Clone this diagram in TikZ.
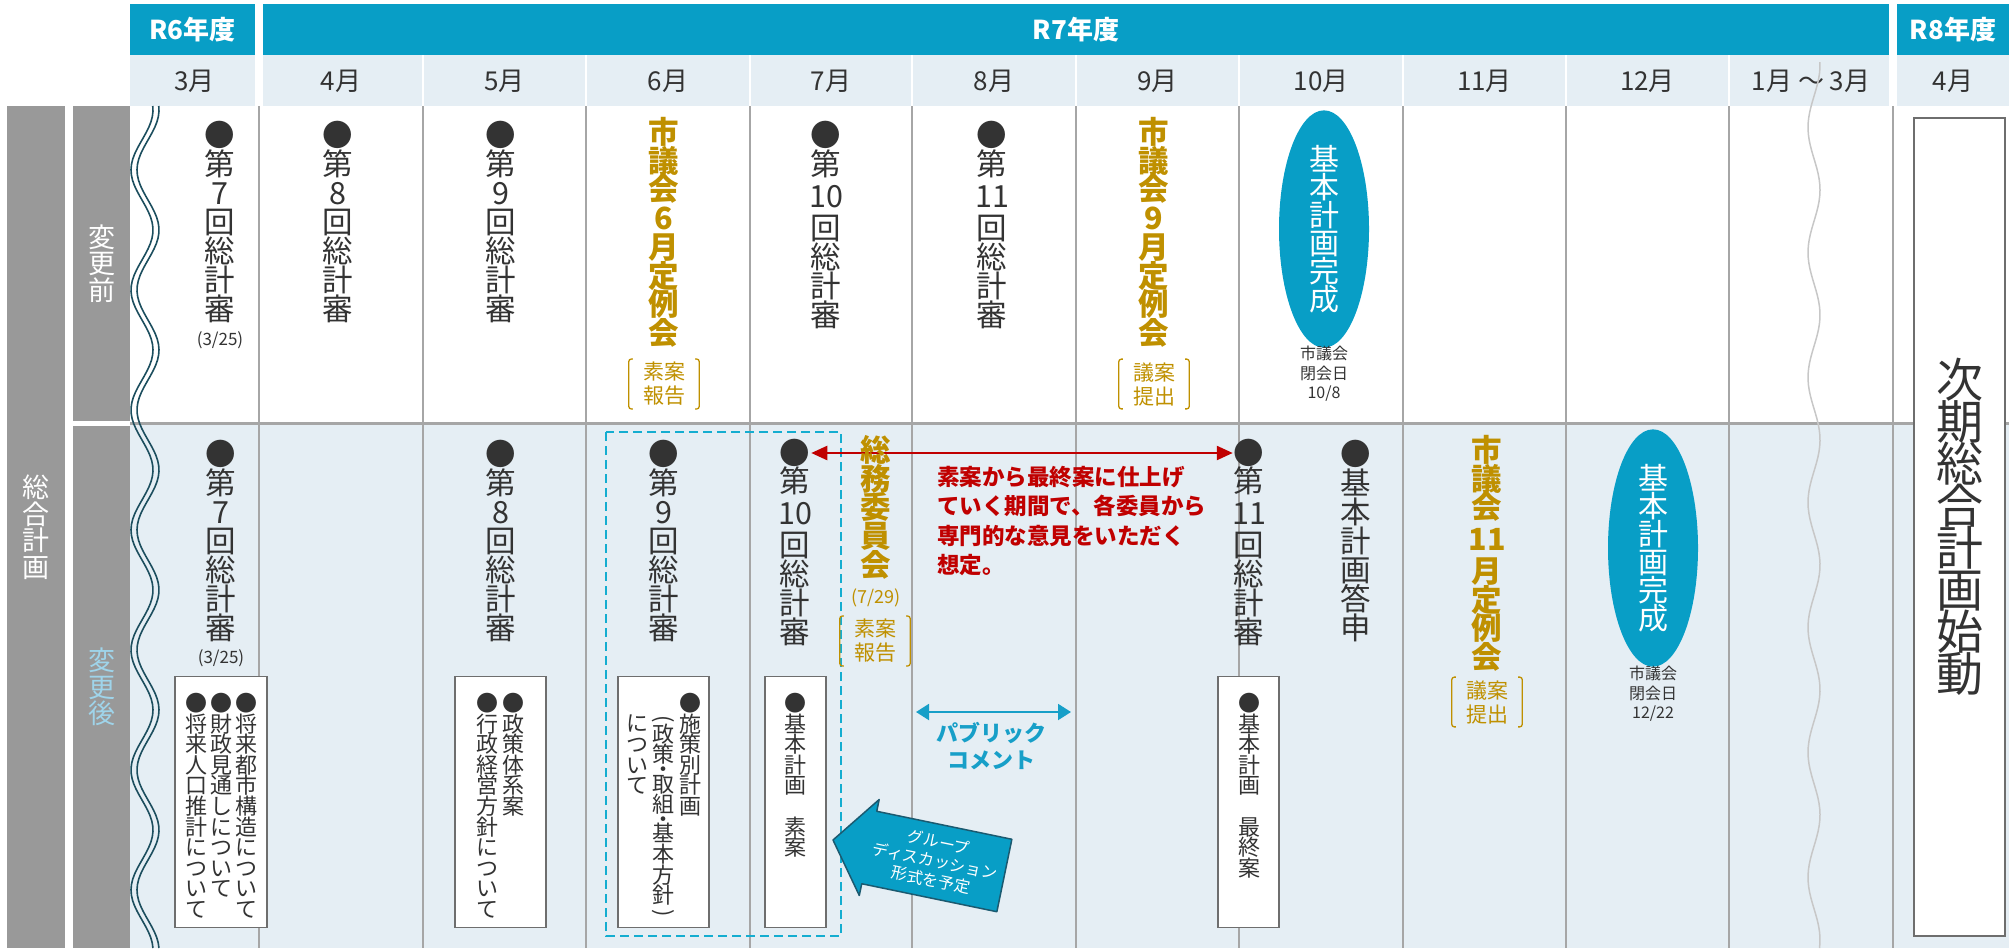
\documentclass[tikz,border=0pt]{standalone}
\usepackage{fontspec}
\setmainfont{Noto Sans CJK JP}
\usetikzlibrary{arrows.meta,shapes.geometric}

\definecolor{hdblue}{HTML}{089EC6}
\definecolor{rowbg}{HTML}{E5EEF4}
\definecolor{barg}{HTML}{999999}
\definecolor{gridg}{HTML}{A6A6A6}
\definecolor{ink}{HTML}{333333}
\definecolor{kgold}{HTML}{BF9000}
\definecolor{kred}{HTML}{C00000}
\definecolor{wavec}{HTML}{1C4E5E}
\definecolor{boxg}{HTML}{6E6E6E}
\definecolor{afterblue}{HTML}{9FD4EA}
\definecolor{pcblue}{HTML}{179FC8}
\definecolor{arrowedge}{HTML}{1B5A70}

\lineskiplimit=-100pt

% gold brackets round a note node
\newcommand\kakko[1]{%
  \draw[kgold,line width=1.3pt,rounded corners=2.5pt]
    ([xshift=4pt]#1.north west) -- (#1.north west) -- (#1.south west) -- ([xshift=4pt]#1.south west)
    ([xshift=-4pt]#1.north east) -- (#1.north east) -- (#1.south east) -- ([xshift=-4pt]#1.south east);}
% vertical parentheses
\newcommand\tateL{\rotatebox[origin=c]{-90}{(}}
\newcommand\tateR{\rotatebox[origin=c]{-90}{)}}

\begin{document}
\begin{tikzpicture}[x=1pt,y=-1pt,
  tate/.style={align=center,inner sep=0pt,text=ink,font=\fontsize{30.5}{29}\selectfont},
  gikai/.style={tate,text=kgold,font=\fontsize{30.5}{28.75}\selectfont\bfseries},
  maru/.style={inner sep=0pt,outer sep=1pt,text=ink,font=\fontsize{30.5}{29}\selectfont},
  memo/.style={draw=boxg,fill=white,line width=1.4pt,inner sep=0pt,anchor=north,minimum height=251pt},
  memotxt/.style={align=center,inner sep=0pt,text=ink,anchor=north,font=\fontsize{22}{20.6}\selectfont},
  kakkotxt/.style={align=center,inner xsep=14pt,inner ysep=3pt,text=kgold,font=\fontsize{21}{24}\selectfont},
  note/.style={align=center,inner sep=0pt,text=ink,font=\fontsize{16}{19.5}\selectfont},
  hd/.style={text=white,font=\fontsize{26}{26}\selectfont\bfseries},
  mon/.style={text=ink,font=\fontsize{26}{26}\selectfont},
  sidebar/.style={fill=barg,text=white,align=center,inner sep=0pt,font=\fontsize{27}{26.5}\selectfont},
  kansei/.style={ellipse,fill=hdblue,tate,text=white,minimum width=90pt,font=\fontsize{30}{28}\selectfont}]
\useasboundingbox (0,0) rectangle (2009,948);

% rows and grid
\fill[rowbg] (130,425) rectangle (2009,948);
\foreach \x in {259,423,586,750,912,1076,1239,1403,1566,1729,1893}{
  \draw[gridg,line width=2pt] (\x,106) -- (\x,948);
}
\draw[gridg,line width=2.5pt] (130,423.5) -- (2009,423.5);

% header
\foreach \a/\b in {130/255,263/1889,1897/2009}{
  \fill[hdblue] (\a,4) rectangle (\b,55);
  \fill[rowbg] (\a,55) rectangle (\b,106);
}
\foreach \x in {423,586,750,912,1076,1239,1403,1566,1729}{
  \draw[white,line width=2.5pt] (\x,55) -- (\x,106);
}
\node[hd] (r6) at (192.5,30) {R6年度};
\node[hd] (r7) at (1076,30) {R7年度};
\node[hd] (r8) at (1953,30) {R8年度};
\foreach \x/\m [count=\i] in {194.5/3月,341/4月,504.5/5月,668/6月,831/7月,994/8月,1157.5/9月,1321/10月,1484.5/11月,1647.5/12月,1811/1月 ～ 3月,1953/4月}{
  \node[mon] (mon\i) at (\x,81) {\m};
}

% side labels
\node[sidebar,minimum width=58pt,minimum height=842pt] (sogo) at (36,527) {総\\合\\計\\画};
\node[sidebar,minimum width=57pt,minimum height=315pt] (mae) at (101.5,263.5) {変\\更\\前};
\node[sidebar,minimum width=57pt,minimum height=522pt,text=afterblue] (ato) at (101.5,687) {変\\更\\後};

% wavy breaks
\draw[wavec,line width=1.6pt] plot[domain=106:948,samples=160,variable=\t] ({142+11*sin(3*\t+120)},\t);
\draw[wavec,line width=1.6pt] plot[domain=106:948,samples=160,variable=\t] ({148+11*sin(3*\t+120)},\t);
\draw[black!22,line width=1.5pt] plot[domain=62:948,samples=160,variable=\t] ({1814+6*sin(2.88*\t+263)},\t);

% before the change
\node[tate,anchor=north] (s3a) at (220,121) {●\\第\\7\\回\\総\\計\\審};
\node[text=ink,font=\fontsize{17}{17}\selectfont] (d3a) at (220,340) {(3/25)};
\node[tate,anchor=north] (s4a) at (338,121) {●\\第\\8\\回\\総\\計\\審};
\node[tate,anchor=north] (s5a) at (501,121) {●\\第\\9\\回\\総\\計\\審};
\node[gikai,anchor=north] (g6a) at (664,117) {市\\議\\会\\6\\月\\定\\例\\会};
\node[kakkotxt] (k6a) at (664,384) {素案\\報告};
\kakko{k6a}
\node[tate,anchor=north] (s7a) at (826,121) {●\\第\\[3pt]10\\[3pt]回\\総\\計\\審};
\node[tate,anchor=north] (s8a) at (992,121) {●\\第\\[3pt]11\\[3pt]回\\総\\計\\審};
\node[gikai,anchor=north] (g9a) at (1154,117) {市\\議\\会\\9\\月\\定\\例\\会};
\node[kakkotxt] (k9a) at (1154,384) {議案\\提出};
\kakko{k9a}
\node[kansei,minimum height=216pt] (e10) at (1324,229) {基\\本\\計\\画\\完\\成};
\node[note] (n10) at (1324,374) {市議会\\閉会日\\10/8};

\node[draw=boxg,fill=white,line width=1.5pt,minimum width=91pt,minimum height=818pt,tate,
  font=\fontsize{47}{42}\selectfont] (jiki) at (1959.5,527) {次\\期\\総\\合\\計\\画\\始\\動};

% after the change
\draw[pcblue!85!cyan,dashed,dash pattern=on 9pt off 5pt,line width=1.8pt] (606,432) rectangle (841,936);

\node[tate,anchor=north] (s3b) at (221,440) {●\\第\\7\\回\\総\\計\\審};
\node[text=ink,font=\fontsize{17}{17}\selectfont] (d3b) at (221,658) {(3/25)};
\node[memo,minimum width=92pt] (m3) at (221,676) {};
\node[memotxt] (m3r) at (246,693) {●\\将\\来\\都\\市\\構\\造\\に\\つ\\い\\て};
\node[memotxt] (m3c) at (221,693) {●\\財\\政\\見\\通\\し\\に\\つ\\い\\て};
\node[memotxt] (m3l) at (196,693) {●\\将\\来\\人\\口\\推\\計\\に\\つ\\い\\て};

\node[tate,anchor=north] (s5b) at (501,440) {●\\第\\8\\回\\総\\計\\審};
\node[memo,minimum width=91pt] (m5) at (500.5,676) {};
\node[memotxt] (m5r) at (513,693) {●\\政\\策\\体\\系\\案};
\node[memotxt] (m5l) at (487,693) {●\\行\\政\\経\\営\\方\\針\\に\\つ\\い\\て};

\node[tate,anchor=north] (s6b) at (664,440) {●\\第\\9\\回\\総\\計\\審};
\node[memo,minimum width=91pt] (m6) at (663.5,676) {};
\node[memotxt] (m6r) at (690,693) {●\\施\\策\\別\\計\\画};
\node[memotxt] (m6c) at (663,715) {\tateL\\[-4pt]政\\策\\[-6pt]・\\[-6pt]取\\組\\[-6pt]・\\[-6pt]基\\本\\方\\針\\[-4pt]\tateR};
\node[memotxt] (m6l) at (637,715) {に\\つ\\い\\て};

\node[maru] (d10) at (795,453) {●};
\node[tate,anchor=north] (s7b) at (795,467) {第\\[3pt]10\\[3pt]回\\総\\計\\審};
\node[memo,minimum width=61pt] (m7) at (795.5,676) {};
\node[memotxt] (m7t) at (795,693) {●\\基\\本\\計\\画\\　\\素\\案};

\node[maru] (d11) at (1249,453) {●};
\draw[kred,line width=2.4pt,{Triangle[length=16pt,width=14pt]}-{Triangle[length=16pt,width=14pt]}] (d10) -- (d11);
\node[tate,anchor=north] (s10b) at (1249,467) {第\\[3pt]11\\[3pt]回\\総\\計\\審};
\node[memo,minimum width=61pt] (m10) at (1248.5,676) {};
\node[memotxt] (m10t) at (1249,693) {●\\基\\本\\計\\画\\　\\最\\終\\案};
\node[tate,anchor=north] (toshin) at (1356,440) {●\\基\\本\\計\\画\\答\\申};

\node[gikai,anchor=north] (somu) at (876,435) {総\\務\\委\\員\\会};
\node[text=kgold,font=\fontsize{18}{18}\selectfont] (d729) at (876,598) {(7/29)};
\node[kakkotxt] (k7b) at (875,641) {素案\\報告};
\kakko{k7b}

\node[anchor=north west,align=left,inner sep=0pt,text=kred,font=\fontsize{22.5}{29.5}\selectfont\bfseries] (iken) at (937,466)
  {素案から最終案に仕上げ\\ていく期間で、各委員から\\専門的な意見をいただく\\想定。};

\coordinate (pcl) at (916,712);
\coordinate (pcr) at (1071,712);
\draw[pcblue,line width=2pt,{Triangle[length=13pt,width=16pt]}-{Triangle[length=13pt,width=16pt]}] (pcl) -- (pcr);
\node[align=center,text=pcblue,font=\fontsize{22}{27}\selectfont\bfseries] (pc) at (991,746) {パブリック\\コメント};

\begin{scope}[shift={(833,840)},rotate=-11.7]
  \draw[fill=hdblue,draw=arrowedge,line width=1.5pt,line join=round]
    (0,0) -- (37,-49) -- (37,-37) -- (175,-37) -- (175,37) -- (37,37) -- (37,49) -- cycle;
  \node[rotate=-11.7,text=white,align=center,font=\fontsize{16}{19.5}\selectfont] (gd) at (104,0)
    {グループ\\ディスカッション\\形式を予定};
\end{scope}

\node[gikai,anchor=north] (g11b) at (1487,435) {市\\議\\会\\[3pt]11\\[3pt]月\\定\\例\\会};
\node[kakkotxt] (k11b) at (1487,702) {議案\\提出};
\kakko{k11b}

\node[kansei,minimum height=218pt] (e12) at (1653,548) {基\\本\\計\\画\\完\\成};
\node[note] (n12) at (1653,694) {市議会\\閉会日\\12/22};
\end{tikzpicture}
\end{document}
